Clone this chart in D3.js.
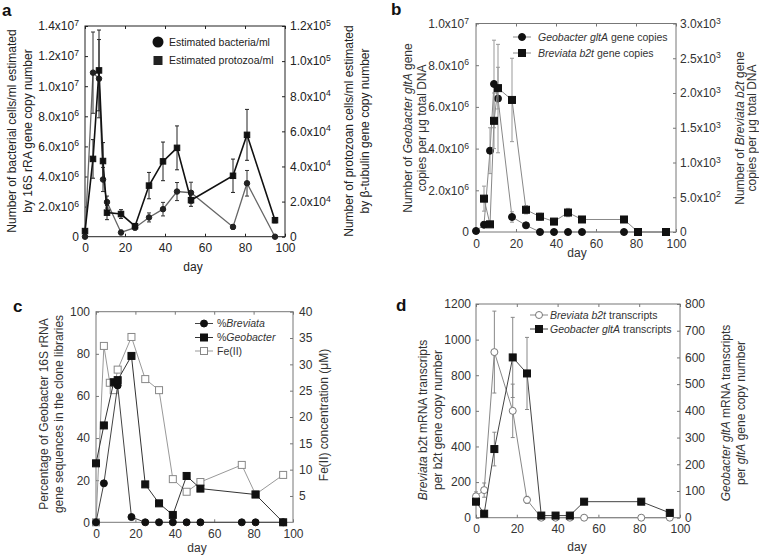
<!DOCTYPE html>
<html><head><meta charset="utf-8">
<script src="https://cdn.jsdelivr.net/npm/d3@7"></script>
<style>body{margin:0;background:#fff;} text{font-family:"Liberation Sans",Arial,sans-serif;}</style>
</head><body><svg id="c" width="759" height="558"></svg>
<script>
// ---------- data ----------
const xTicks = [0,20,40,60,80,100];
// panel a
const daysA = [0,4,7,9,11,18,25,32,39,46,53,74,81,95];
const bacteriaA = [0,10.9e6,10.5e6,3.8e6,2.3e6,0.28e6,0.6e6,1.28e6,1.83e6,3.0e6,2.92e6,0.65e6,3.55e6,0];
const bacteriaErrA = [0,2.7e6,2.6e6,0.8e6,0.4e6,0.15e6,0.15e6,0.3e6,0.45e6,0.6e6,0.7e6,0.15e6,0.85e6,0];
const protozoaA = [3200,44300,94700,43100,13700,12900,6000,29100,42900,50600,20800,34700,58000,9400];
const protozoaErrA = [0,11000,23000,10500,4000,2500,1500,7500,11000,12500,3500,9500,14500,1500];
const ticksAL = [0,2e6,4e6,6e6,8e6,1e7,1.2e7,1.4e7];
const ticksAR = [0,2e4,4e4,6e4,8e4,1e5,1.2e5];
// panel b
const daysGeoB = [0,4,7,9,11,18,25,32,39,46,53,74,81,95];
const geoB = [0.05e6,0.35e6,3.9e6,7.1e6,6.4e6,0.72e6,0.32e6,0,0,0,0,0,0,0];
const geoErrB = [0,0.15e6,1.1e6,2.1e6,2.6e6,0.25e6,0.1e6,0,0,0,0,0,0,0];
const daysBrevB = [4,7,9,11,18,25,32,39,46,53,74,81,95];
const brevB = [480,110,1600,2070,1900,320,220,150,280,180,180,0,0];
const brevErrB = [180,30,400,300,600,60,50,30,60,30,40,0,0];
const ticksBL = [0,2e6,4e6,6e6,8e6,1e7];
const ticksBR = [0,500,1000,1500,2000,2500,3000];
// panel c
const daysBrevC = [0,4,11,18,25,32,39,46,53,74,81,95];
const brevPctC = [0,18.5,65,2.5,0,0,0,0,0,0,0,0];
const daysGeoC = [0,4,9,11,18,25,32,39,46,53,81,95];
const geoPctC = [28,46,66.5,67.5,79,18,9,3.5,22,16,13.2,0];
const daysFeC = [0,4,7,9,11,18,25,32,39,46,53,74,81,95];
const feC = [0,33.5,26.5,25.1,29,35.2,27.2,25.1,8.2,5.8,7.65,10.9,5.3,9.0];
const ticksCL = [0,20,40,60,80,100];
const ticksCR = [5,10,15,20,25,30,35,40];
// panel d
const daysD = [0,4,9,18,25,32,39,46,53,81,95];
const brevTxD = [120,155,930,600,100,0,0,0,0,0,0];
const brevTxErrD = [25,40,230,150,20,0,0,0,0,0,0];
const geoTxD = [60,15,257,600,540,8,8,8,60,60,18];
const geoTxErrD = [0,0,63,150,135,0,0,0,0,0,0];
const ticksDL = [0,200,400,600,800,1000,1200];
const ticksDR = [0,100,200,300,400,500,600,700,800];

// ---------- drawing ----------
const svg = d3.select("#c");

function sci(v){
  if(v===0) return {m:"0"};
  const e = Math.floor(Math.log10(v)+1e-9);
  const m = v/Math.pow(10,e);
  return {m:m.toFixed(1)+"x10", e:String(e)};
}
function supFmt(sel){
  sel.selectAll(".tick text").each(function(d){
    const t = d3.select(this); const s = sci(d);
    t.text(null);
    t.append("tspan").text(s.m);
    if(s.e) t.append("tspan").attr("dy","-0.5em").attr("font-size","0.72em").text(s.e);
  });
}

function panel(o){
  const g = svg.append("g");
  const x = d3.scaleLinear().domain([0,100]).range(o.xr);
  const yL = d3.scaleLinear().domain(o.yLd).range(o.yr);
  const yR = d3.scaleLinear().domain(o.yRd).range(o.yr);
  const fs = 12;
  g.append("rect").attr("x",o.xr[0]).attr("y",o.yr[1])
    .attr("width",o.xr[1]-o.xr[0]).attr("height",o.yr[0]-o.yr[1])
    .attr("fill","none").attr("stroke",o.frame).attr("stroke-width",1);
  const style = s => { s.select(".domain").remove();
    s.selectAll(".tick line").attr("stroke",o.frame);
    s.selectAll(".tick text").attr("fill",o.text).attr("font-size",fs).attr("font-family","Liberation Sans, Arial, sans-serif"); };
  g.append("g").attr("transform",`translate(0,${o.yr[0]})`)
    .call(d3.axisBottom(x).tickValues(xTicks).tickSize(-3).tickPadding(o.xpad)).call(style);
  g.append("g").attr("transform",`translate(0,${o.yr[1]})`)
    .call(d3.axisTop(x).tickValues(xTicks).tickSize(-3).tickFormat("")).call(style);
  const la = g.append("g").attr("transform",`translate(${o.xr[0]},0)`)
    .call(d3.axisLeft(yL).tickValues(o.tL).tickSize(-3).tickPadding(o.lpad).tickFormat(o.sci?(d=>d):d3.format("d"))).call(style);
  const ra = g.append("g").attr("transform",`translate(${o.xr[1]},0)`)
    .call(d3.axisRight(yR).tickValues(o.tR).tickSize(-3).tickPadding(o.rpad).tickFormat(o.sci?(d=>d):d3.format("d"))).call(style);
  if(o.sci){ supFmt(la); supFmt(ra); }
  // axis titles
  g.append("text").attr("x",o.dayPos[0]).attr("y",o.dayPos[1]).attr("text-anchor","middle")
    .attr("font-size",fs).attr("fill",o.text).text("day");
  const title = (cx,cy,parts) => {
    const t = g.append("text").attr("transform",`translate(${cx},${cy}) rotate(-90)`)
      .attr("text-anchor","middle").attr("dy","0.35em").attr("font-size",fs).attr("fill",o.text);
    parts.forEach(p => t.append("tspan").attr("font-style",p[1]?"italic":null).text(p[0]));
  };
  o.titles.forEach(tt => title(tt[0],tt[1],tt[2]));
  g.append("text").attr("x",o.lab[0]).attr("y",o.lab[1]).attr("font-size",17).attr("font-weight","bold")
    .attr("fill","#111").text(o.label);
  return {g,x,yL,yR};
}

function series(P, days, vals, errs, y, st){
  const pts = days.map((d,i)=>[d,vals[i],errs?errs[i]:0]);
  P.g.append("path").datum(pts).attr("fill","none").attr("stroke",st.line).attr("stroke-width",st.lw)
    .attr("d", d3.line().x(d=>P.x(d[0])).y(d=>y(d[1])));
  const eb = P.g.append("g").attr("stroke",st.err||st.line).attr("stroke-width",1);
  pts.filter(d=>d[2]>0).forEach(d=>{
    const cx=P.x(d[0]), y1=y(d[1]+d[2]), y0=y(Math.max(0,d[1]-d[2]));
    eb.append("line").attr("x1",cx).attr("x2",cx).attr("y1",y1).attr("y2",y0);
    eb.append("line").attr("x1",cx-2).attr("x2",cx+2).attr("y1",y1).attr("y2",y1);
    eb.append("line").attr("x1",cx-2).attr("x2",cx+2).attr("y1",y0).attr("y2",y0);
  });
  pts.forEach(d=>marker(P.g, P.x(d[0]), y(d[1]), st));
}
function marker(g,cx,cy,st){
  const s = st.size;
  if(st.shape==="circle"){
    g.append("circle").attr("cx",cx).attr("cy",cy).attr("r",s/2)
      .attr("fill",st.open?"#fff":st.mk).attr("stroke",st.mk).attr("stroke-width",1);
  } else {
    g.append("rect").attr("x",cx-s/2).attr("y",cy-s/2).attr("width",s).attr("height",s)
      .attr("fill",st.open?"#fff":st.mk).attr("stroke",st.mk).attr("stroke-width",1);
  }
}
function legendRow(g,x0,x1,y,txtX,st,parts,fs){
  g.append("line").attr("x1",x0).attr("x2",x1).attr("y1",y).attr("y2",y).attr("stroke",st.line).attr("stroke-width",1);
  marker(g,(x0+x1)/2,y,st);
  const t = g.append("text").attr("x",txtX).attr("y",y).attr("dy","0.35em").attr("font-size",fs).attr("fill","#333");
  parts.forEach(p=>t.append("tspan").attr("font-style",p[1]?"italic":null).text(p[0]));
}

// ----- panel a -----
const A = panel({xr:[85,285], yr:[236.7,26], yLd:[0,1.4e7], yRd:[0,1.2e5], tL:ticksAL, tR:ticksAR, sci:true,
  frame:"#222", text:"#222", xpad:7, lpad:6, rpad:5, dayPos:[193,271], label:"a", lab:[2,16],
  titles:[[12,131,[["Number of bacterial cells/ml estimated"]]],[28,131,[["by 16S rRA gene copy number"]]],
          [349,131,[["Number of protozoan cells/ml estimated"]]],[365,131,[["by β-tubulin gene copy number"]]]]});
series(A, daysA, bacteriaA, bacteriaErrA, A.yL, {line:"#666",lw:1.3,err:"#333",mk:"#222",shape:"circle",size:5.5});
series(A, daysA, protozoaA, protozoaErrA, A.yR, {line:"#111",lw:1.6,err:"#222",mk:"#111",shape:"square",size:5.5});
A.g.append("circle").attr("cx",158).attr("cy",42).attr("r",5.5).attr("fill","#111");
A.g.append("text").attr("x",169).attr("y",42).attr("dy","0.35em").attr("font-size",10.5).attr("fill","#222").text("Estimated bacteria/ml");
A.g.append("rect").attr("x",153.5).attr("y",56).attr("width",9).attr("height",9).attr("fill","#222");
A.g.append("text").attr("x",169).attr("y",60.5).attr("dy","0.35em").attr("font-size",10.5).attr("fill","#222").text("Estimated protozoa/ml");

// ----- panel b -----
const B = panel({xr:[476,676], yr:[232,23.5], yLd:[0,1e7], yRd:[0,3000], tL:ticksBL, tR:ticksBR, sci:true,
  frame:"#777", text:"#333", xpad:7, lpad:7, rpad:4, dayPos:[577,257], label:"b", lab:[391,15],
  titles:[[407.5,128,[["Number of "],["Geobacter gltA",1],[" gene"]]],[422,128,[["copies per μg total DNA"]]],
          [740,128,[["Number of "],["Breviata b2t",1],[" gene"]]],[752,128,[["copies per μg total DNA"]]]]});
const stGeoB = {line:"#888",lw:1,err:"#999",mk:"#111",shape:"circle",size:7};
const stBrevB = {line:"#888",lw:1,err:"#999",mk:"#111",shape:"square",size:7};
series(B, daysGeoB, geoB, geoErrB, B.yL, stGeoB);
series(B, daysBrevB, brevB, brevErrB, B.yR, stBrevB);
legendRow(B.g,513,531,37,538,stGeoB,[["Geobacter gltA",1],[" gene copies"]],10.5);
legendRow(B.g,513,531,53,538,stBrevB,[["Breviata b2t",1],[" gene copies"]],10.5);

// ----- panel c -----
const C = panel({xr:[96,293], yr:[522.3,311.7], yLd:[0,100], yRd:[0,40], tL:ticksCL, tR:ticksCR, sci:false,
  frame:"#777", text:"#333", xpad:7, lpad:6, rpad:6, dayPos:[197,552], label:"c", lab:[13,312],
  titles:[[44,414,[["Percentage of Geobacter 16S rRNA"]]],[59,414,[["gene sequences in the clone libraries"]]],
          [324,415,[["Fe(II) concentration (μM)"]]]]});
const stBrevC = {line:"#444",lw:1,mk:"#111",shape:"circle",size:7};
const stGeoC = {line:"#333",lw:1,mk:"#111",shape:"square",size:7};
const stFeC = {line:"#999",lw:1,mk:"#888",shape:"square",size:7,open:true};
series(C, daysFeC, feC, null, C.yR, stFeC);
series(C, daysBrevC, brevPctC, null, C.yL, stBrevC);
series(C, daysGeoC, geoPctC, null, C.yL, stGeoC);
legendRow(C.g,195,213,323.5,217,stBrevC,[["%"],["Breviata",1]],10.5);
legendRow(C.g,195,213,337.5,217,stGeoC,[["%"],["Geobacter",1]],10.5);
legendRow(C.g,195,213,351,217,stFeC,[["Fe(II)"]],10.5);

// ----- panel d -----
const D = panel({xr:[476,680], yr:[517.7,304], yLd:[0,1200], yRd:[0,800], tL:ticksDL, tR:ticksDR, sci:false,
  frame:"#777", text:"#333", xpad:7, lpad:5, rpad:5, dayPos:[577,551], label:"d", lab:[396,311],
  titles:[[422.5,420,[["Breviata",1],[" b2t mRNA transcripts"]]],[437.5,420,[["per b2t gene copy number"]]],
          [726,413,[["Geobacter gltA",1],[" mRNA transcripts"]]],[741,413,[["per "],["gltA",1],[" gene copy number"]]]]});
const stBrevD = {line:"#888",lw:1,err:"#888",mk:"#777",shape:"circle",size:7,open:true};
const stGeoD = {line:"#444",lw:1,err:"#888",mk:"#111",shape:"square",size:7};
series(D, daysD, brevTxD, brevTxErrD, D.yL, stBrevD);
series(D, daysD, geoTxD, geoTxErrD, D.yR, stGeoD);
legendRow(D.g,530,548,315,550,stBrevD,[["Breviata b2t",1],[" transcripts"]],10.5);
legendRow(D.g,530,548,329,550,stGeoD,[["Geobacter gltA",1],[" transcripts"]],10.5);
</script></body></html>
